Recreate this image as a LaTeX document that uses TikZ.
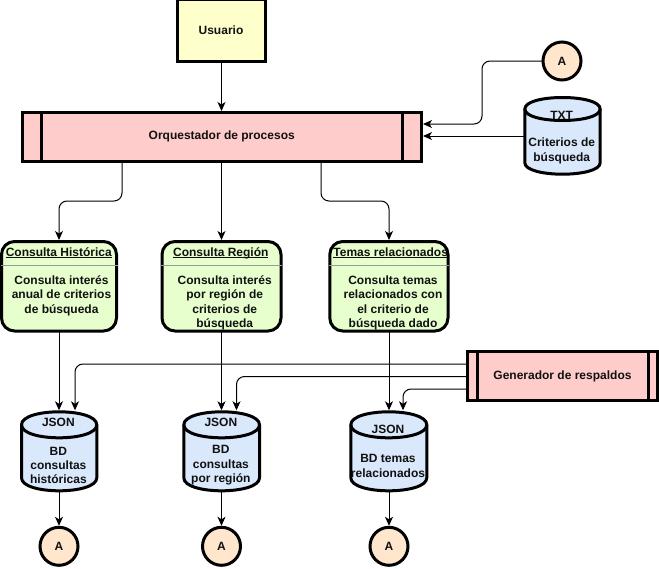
\documentclass[tikz,border=0pt]{standalone}
\usepackage{fontspec}
\setmainfont{Liberation Sans}
\usetikzlibrary{arrows.meta}
\definecolor{usr}{HTML}{FFFFCC}
\definecolor{proc}{HTML}{FFCCCC}
\definecolor{act}{HTML}{E6FFCC}
\definecolor{store}{HTML}{DAE8FC}
\definecolor{conn}{HTML}{FFE6CC}
\definecolor{ink}{HTML}{111111}
\tikzset{
  lbl/.style={font=\fontsize{12}{14.4}\selectfont\bfseries, text=ink, align=center, inner sep=0pt},
  boxshape/.style={draw=black, line width=3pt, fill=#1, inner sep=0pt, outer sep=0pt},
  circ/.style={circle, draw=black, line width=3pt, fill=conn, minimum size=38pt, inner sep=0pt, outer sep=0pt, font=\fontsize{12}{14.4}\selectfont\bfseries, text=ink},
  flow/.style={draw=black, line width=1pt, rounded corners=8pt, shorten >=1.5pt, -{Stealth[length=9pt,width=8pt,inset=2.5pt]}},
}
% \procbox{name}{left}{top}{right}{bottom}{bar}{text}
\newcommand{\procbox}[7]{%
  \node[boxshape=proc, minimum width={(#4-#2)*1pt}, minimum height={(#5-#3)*1pt}, anchor=north west] (#1) at (#2,#3) {};
  \draw[line width=3pt] (#2+#6,#3) -- (#2+#6,#5);
  \draw[line width=3pt] (#4-#6,#3) -- (#4-#6,#5);
  \node[lbl] (#1-text) at (#1.center) {#7};
}
% \lane{name}{left}{right}{title}{title cx}{text cx}{body}
\newcommand{\lane}[7]{%
  \node[boxshape=act, rounded corners=13pt, minimum width={(#3-#2)*1pt}, minimum height=89.5pt, anchor=north west] (#1) at (#2,241.5) {};
  \draw[line width=1pt, draw=black!40] (#2-1,265) -- (#3+1,265);
  \node[lbl, anchor=base] (#1-title) at (#5,256) {\underline{\smash{#4}}};
  \node[lbl, anchor=north] (#1-body) at (#6,275.5) {#7};
}
% \cyl{name}{left}{top}{right}{bottom}{head}{head y}{body}{body y}; \cdy is the ellipse half height
\def\cdy{13}
\newcommand{\cyl}[9]{%
  \draw[line width=3pt, fill=store] (#2,#3+\cdy)
    .. controls (#2,#3-\cdy/3) and (#4,#3-\cdy/3) .. (#4,#3+\cdy)
    -- (#4,#5-\cdy)
    .. controls (#4,#5+\cdy/3) and (#2,#5+\cdy/3) .. (#2,#5-\cdy) -- cycle;
  \draw[line width=3pt] (#2,#3+\cdy) .. controls (#2,#3+\cdy*2.333) and (#4,#3+\cdy*2.333) .. (#4,#3+\cdy);
  \node[minimum width={(#4-#2)*1pt}, minimum height={(#5-#3)*1pt}, inner sep=0pt, outer sep=0pt, anchor=north west] (#1) at (#2,#3) {};
  \node[lbl] (#1-head) at ({(#2+#4)/2-0.8},#7) {#6};
  \node[lbl] (#1-body) at ({(#2+#4)/2-0.8},#9) {#8};
}
\begin{document}
\begin{tikzpicture}[x=1pt,y=-1pt]
\useasboundingbox (0,0) rectangle (659,568);
% nodes
\node[boxshape=usr, minimum width=88pt, minimum height=61.5pt, anchor=north west] (user) at (177,-0.5) {};
\node[lbl] (user-text) at (221,30) {Usuario};
\procbox{orq}{22}{112.5}{421.5}{161}{19}{Orquestador de procesos}
\node[circ] (atop) at (562,61) {A};
\def\cdy{11.5}
\cyl{txt}{524.8}{97.5}{600.2}{174.2}{TXT}{115}{Criterios de\\búsqueda}{150.8}
\def\cdy{13}
\lane{hist}{1.5}{116.5}{Consulta Histórica}{58.8}{61.5}{Consulta interés\\anual de criterios\\de búsqueda}
\lane{regi}{162}{281}{Consulta Región}{220.8}{224.7}{Consulta interés\\por región de\\criterios de\\búsqueda}
\lane{tema}{329.8}{448}{Temas relacionados}{390.7}{393}{Consulta temas\\relacionados con\\el criterio de\\búsqueda dado}
\procbox{gen}{467.5}{351.5}{657.5}{400.8}{9.5}{Generador de respaldos}
\cyl{dbh}{21.5}{411.8}{96.8}{490.8}{JSON}{422.7}{BD\\consultas\\históricas}{465.5}
\cyl{dbr}{183.8}{411.8}{259.5}{490.8}{JSON}{422.7}{BD\\consultas\\por región}{465.5}
\cyl{dbt}{350.8}{411.8}{426.8}{490.8}{JSON}{429.3}{BD temas\\relacionados}{465.8}
\node[circ] (ah) at (59,546.3) {A};
\node[circ] (ar) at (221.5,546.3) {A};
\node[circ] (at) at (389,546.3) {A};
% named free ends
\coordinate (orqT) at (421.5,124);
\coordinate (orqB) at (421.5,136);
\coordinate (orqBl) at (122,161);
\coordinate (orqBr) at (321,161);
\coordinate (genA) at (467.5,364);
\coordinate (genB) at (467.5,376.5);
\coordinate (genC) at (467.5,389);
\coordinate (dbhB) at (75,411.8);
\coordinate (dbrB) at (236.5,411.8);
\coordinate (dbtB) at (403,411.8);
% connectors
\draw[flow] (user.south -| 221.5,0) -- (orq.north -| 221.5,0);
\draw[flow] (atop.west) -- (482,61) -- (482,124) -- (orqT);
\draw[flow] (txt.west |- orqB) -- (orqB);
\draw[flow] (orqBl) -- (122,201) -- (59,201) -- (hist.north -| 59,0);
\draw[flow] (orq.south -| 221.5,0) -- (regi.north -| 221.5,0);
\draw[flow] (orqBr) -- (321,201) -- (389,201) -- (tema.north -| 389,0);
\draw[flow] (hist.south -| 59,0) -- (dbh.north -| 59,0);
\draw[flow] (regi.south -| 221.5,0) -- (dbr.north -| 221.5,0);
\draw[flow] (tema.south -| 389,0) -- (dbt.north -| 389,0);
\draw[flow] (genA) -- (75,364) -- (dbhB);
\draw[flow] (genB) -- (236.5,376.5) -- (dbrB);
\draw[flow] (genC) -- (403,389) -- (dbtB);
\draw[flow] (dbh.south -| 59,0) -- (ah.north);
\draw[flow] (dbr.south -| 221.5,0) -- (ar.north);
\draw[flow] (dbt.south -| 389,0) -- (at.north);
\end{tikzpicture}
\end{document}
